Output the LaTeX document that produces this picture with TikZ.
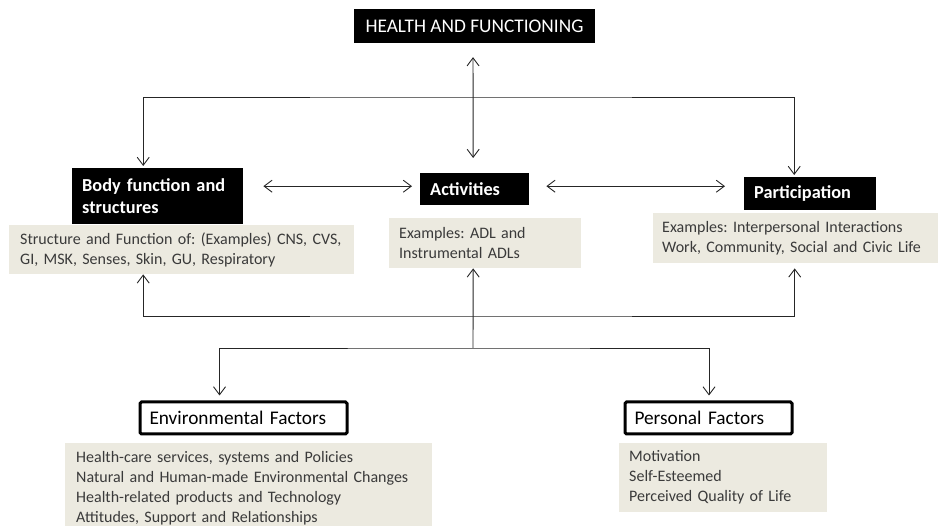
\documentclass[tikz,border=0pt]{standalone}
\usepackage{fontspec}
\setmainfont{Carlito}
\usepackage{tikz}
\usetikzlibrary{arrows.meta, positioning}
\frenchspacing

\definecolor{notefill}{HTML}{ECEAE0}
\definecolor{notetext}{HTML}{3A3A3A}

\begin{document}
\begin{tikzpicture}[
    x=1pt, y=-1pt,
    darkbox/.style={
        rectangle,
        fill=black,
        text=white,
        font=\fontsize{18.3}{22}\selectfont\bfseries,
        align=left,
        inner xsep=10pt,
        inner ysep=0pt,
        anchor=north west
    },
    framebox/.style={
        rectangle,
        rounded corners=1.5pt,
        draw=black,
        line width=3pt,
        fill=white,
        font=\fontsize{19.3}{22}\selectfont,
        align=left,
        inner xsep=9.5pt,
        inner ysep=0pt,
        minimum height=32pt,
        anchor=north west
    },
    notebox/.style={
        rectangle,
        fill=notefill,
        text=notetext,
        font=\fontsize{16}{20}\selectfont,
        align=left,
        inner xsep=10pt,
        inner ysep=0pt,
        anchor=north west
    },
    link/.style={
        draw=black!85,
        line width=0.9pt,
        arrows={-Straight Barb[length=8pt, width=12pt]}
    },
    dlink/.style={
        link,
        arrows={Straight Barb[length=8pt, width=12pt]-Straight Barb[length=8pt, width=12pt]}
    }
]

    \useasboundingbox (0,0) rectangle (938,526);

    \node (hf) [darkbox, align=center, font=\fontsize{19.3}{22}\selectfont,
        minimum width=241pt, minimum height=34pt, anchor=center] at (474.5,26)
        {HEALTH AND FUNCTIONING};

    \node (body) [darkbox, text width=151pt, minimum height=56pt] at (72,168)
        {Body function and\\structures};

    \node (act) [darkbox, text width=89pt, minimum height=32pt] at (420,173)
        {Activities};

    \node (part) [darkbox, text width=112pt, minimum height=33pt] at (744,177)
        {Participation};

    \node (bodyex) [notebox, inner xsep=11pt, text width=323pt, minimum height=49pt] at (9,225)
        {Structure and Function of: (Examples) CNS, CVS,\\GI, MSK, Senses, Skin, GU, Respiratory};

    \node (actex) [notebox, text width=172pt, minimum height=50pt] at (389,218)
        {Examples: ADL and\\Instrumental ADLs};

    \node (partex) [notebox, inner xsep=9pt, text width=267pt, minimum height=50pt] at (653,213)
        {Examples: Interpersonal Interactions\\Work, Community, Social and Civic Life};

    \node (env) [framebox, text width=188pt] at (138.5,400.5)
        {Environmental Factors};

    \node (pers) [framebox, text width=148pt] at (623.5,400.5)
        {Personal Factors};

    \node (envex) [notebox, inner xsep=11pt, text width=345pt, minimum height=91pt] at (65,443)
        {Health-care services, systems and Policies\\
         Natural and Human-made Environmental Changes\\
         Health-related products and Technology\\
         Attitudes, Support and Relationships};

    \node (persex) [notebox, text width=188pt, minimum height=69pt] at (619,443)
        {Motivation\\Self-Esteemed\\Perceived Quality of Life};

    \coordinate (topbar) at (473,97);
    \coordinate (midbar) at (473,316);
    \coordinate (lowbar) at (473,348);

    \draw [dlink, shorten <=14pt, shorten >=15pt] ([xshift=-1.5pt]hf.south) -- ([xshift=-1.5pt]act.north);
    \draw [dlink, shorten <=2pt, shorten >=2pt] ([xshift=-14.5pt]body.north) |- (topbar) -| ([xshift=-16pt]part.north);
    \draw [dlink, shorten <=20pt, shorten >=8pt] ([yshift=10pt]body.east) -- ([yshift=3pt]act.west);
    \draw [dlink, shorten <=17pt, shorten >=19pt] ([yshift=3pt]act.east) -- ([yshift=7.5pt]part.west);

    \draw [dlink, shorten >=5pt] ([xshift=-38.5pt]bodyex.south) |- (midbar) -| ([xshift=-1pt]partex.south);
    \draw [link] (lowbar) -- ([xshift=-12pt]actex.south);
    \draw [dlink, shorten <=5pt, shorten >=5pt] ([xshift=-24pt]env.north) |- (lowbar) -| ([xshift=0.5pt]pers.north);

\end{tikzpicture}
\end{document}
